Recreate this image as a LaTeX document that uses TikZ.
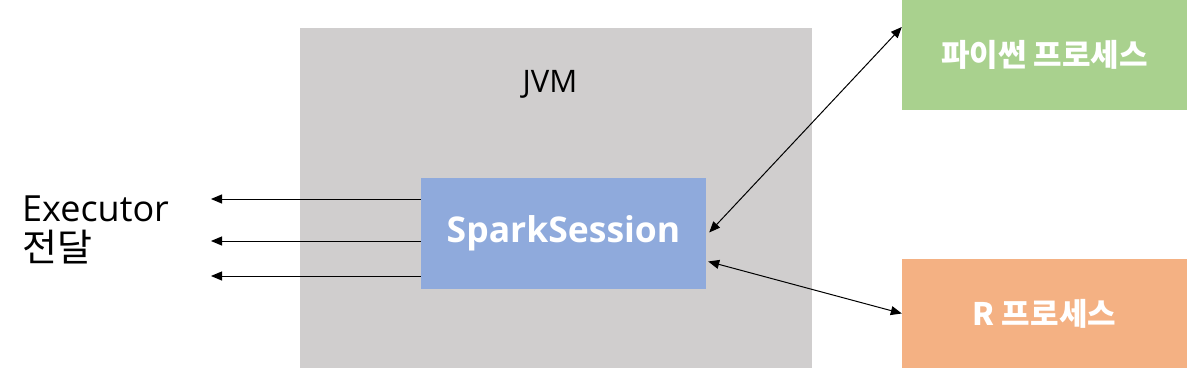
\documentclass[tikz,border=0pt]{standalone}
\usepackage{fontspec}
\setmainfont{Open Sans}
\newfontfamily\kr{Noto Sans CJK KR}
\usetikzlibrary{arrows.meta}

\definecolor{jvmgray}{HTML}{D0CECE}
\definecolor{sparkblue}{HTML}{8FAADC}
\definecolor{pygreen}{HTML}{A9D18E}
\definecolor{rorange}{HTML}{F4B183}

\begin{document}
\begin{tikzpicture}[x=1pt, y=-1pt,
  box/.style={rectangle, inner sep=0pt, text=white, font=\kr\bfseries\fontsize{31}{36}\selectfont},
  link/.style={line width=1pt, -{Triangle[length=11pt,width=9pt]}}]

\useasboundingbox (0,0) rectangle (1187,369);

\fill[jvmgray] (300,28) rectangle (812,368);
\node (jvm) at (550,84) {\fontsize{31}{36}\selectfont JVM};

\node[box, fill=sparkblue, minimum width=285pt, minimum height=111pt, font=\bfseries\fontsize{35.5}{40}\selectfont] (spark) at (563.5,233.5) {SparkSession};

\node[box, fill=pygreen, minimum width=285pt, minimum height=110pt] (py) at (1044.5,55) {파이썬 프로세스};
\node[box, fill=rorange, minimum width=285pt, minimum height=109pt] (rp) at (1044.5,313.5) {R 프로세스};

\node[align=left, anchor=west, inner sep=0pt, font=\fontsize{36}{40}\selectfont] (exec) at (22,230) {Executor\\{\kr\fontsize{38}{40}\selectfont 전달}};

% executor arrows
\coordinate (e1) at (211,199);
\coordinate (e2) at (211,241);
\coordinate (e3) at (211,276);
\draw[link] (spark.west |- e1) -- (e1);
\draw[link] (spark.west |- e2) -- (e2);
\draw[link] (spark.west |- e3) -- (e3);

% processes
\draw[link, {Triangle[length=11pt,width=9pt]}-{Triangle[length=11pt,width=9pt]}] ([shift={(3,-1)}]spark.east) -- ([yshift=28]py.west);
\draw[link, {Triangle[length=11pt,width=9pt]}-{Triangle[length=11pt,width=9pt]}] ([shift={(2,28)}]spark.east) -- (rp.west);

\end{tikzpicture}
\end{document}
